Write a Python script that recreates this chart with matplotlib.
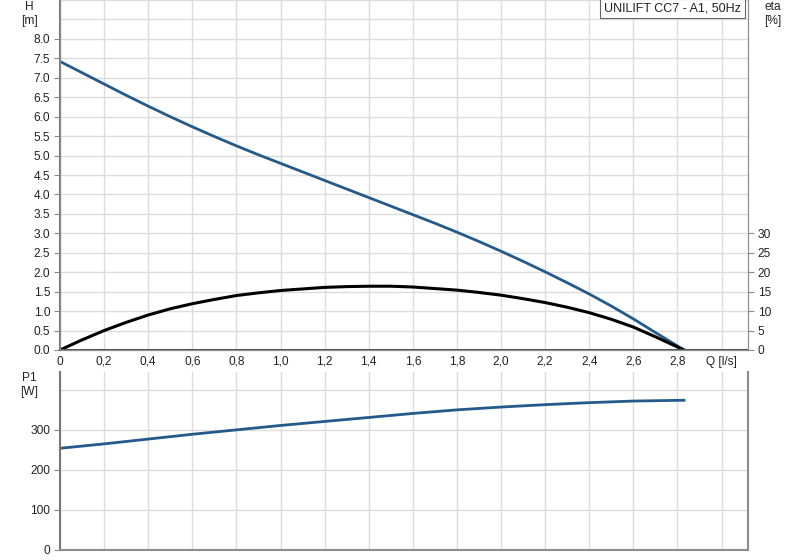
import matplotlib
matplotlib.use('Agg')
import matplotlib.pyplot as plt

# Pump curve data (Q in l/s)
q = [0.0, 0.1, 0.2, 0.3, 0.4, 0.5, 0.6, 0.7, 0.8, 0.9, 1.0, 1.1, 1.2, 1.3, 1.4,
     1.5, 1.6, 1.7, 1.8, 1.9, 2.0, 2.1, 2.2, 2.3, 2.4, 2.5, 2.6, 2.7, 2.83]
head = [7.42, 7.13, 6.84, 6.55, 6.27, 6.00, 5.74, 5.49, 5.25, 5.02, 4.80, 4.58,
        4.36, 4.14, 3.92, 3.70, 3.48, 3.26, 3.03, 2.79, 2.54, 2.28, 2.01, 1.73,
        1.44, 1.13, 0.80, 0.45, 0.0]
eta = [0.0, 2.6, 5.0, 7.1, 9.0, 10.6, 11.9, 13.0, 14.0, 14.7, 15.3, 15.7, 16.1,
       16.3, 16.4, 16.4, 16.2, 15.8, 15.4, 14.8, 14.1, 13.2, 12.2, 11.0, 9.6,
       7.9, 5.9, 3.4, 0.0]
q_p = [0.0, 0.2, 0.4, 0.6, 0.8, 1.0, 1.2, 1.4, 1.6, 1.8, 2.0, 2.2, 2.4, 2.6, 2.83]
p1 = [254, 265, 277, 289, 300, 311, 321, 331, 341, 350, 357, 363, 368, 372, 374]

q_ticks = [0, 0.2, 0.4, 0.6, 0.8, 1.0, 1.2, 1.4, 1.6, 1.8, 2.0, 2.2, 2.4, 2.6, 2.8, 3.0]
q_labels = ['0', '0,2', '0,4', '0,6', '0,8', '1,0', '1,2', '1,4', '1,6', '1,8',
            '2,0', '2,2', '2,4', '2,6', '2,8', 'Q [l/s]']
h_ticks = [i * 0.5 for i in range(17)]
eta_ticks = [0, 5, 10, 15, 20, 25, 30]
p_ticks = [0, 100, 200, 300]

plt.rcParams['font.family'] = ['Liberation Sans', 'DejaVu Sans']
plt.rcParams['font.size'] = 8.6
plt.rcParams['text.color'] = '#222222'
plt.rcParams['xtick.color'] = '#222222'
plt.rcParams['ytick.color'] = '#222222'

blue = '#245a8a'
grid_c = '#dcdcdc'
spine_c = '#8c8c8c'

fig = plt.figure(figsize=(8, 5.6), dpi=100)
ax = fig.add_axes([0.075, 0.375, 0.86, 0.625])
ax2 = fig.add_axes([0.075, 0.018, 0.86, 0.318])

# top chart: head and efficiency
ax.plot(q, head, color=blue, lw=2)
ax.plot(q, [e / 10 for e in eta], color='black', lw=2.2)
ax.set_xlim(0, 3.12)
ax.set_ylim(0, 9.0)
ax.set_xticks(q_ticks)
ax.set_xticklabels(q_labels)
ax.set_yticks(h_ticks)
ax.set_yticklabels(['%.1f' % t for t in h_ticks])
ax.set_yticks([8.5, 9.0], minor=True)
ax.grid(True, which='both', color=grid_c, lw=1)
ax.tick_params(axis='x', length=0, pad=4)
ax.tick_params(axis='y', length=4, color=spine_c, pad=3)
ax.tick_params(which='minor', length=0)

axr = ax.twinx()
axr.set_ylim(0, 90)
axr.set_yticks(eta_ticks)
axr.tick_params(axis='y', length=4, color=spine_c, pad=3)

for a in (ax, axr):
    for s in a.spines.values():
        s.set_color(spine_c)
    a.spines['top'].set_visible(False)
ax.spines['left'].set_color('#777777')
ax.spines['left'].set_linewidth(1.5)
ax.spines['bottom'].set_color('#555555')
ax.spines['bottom'].set_linewidth(1.5)

fig.text(29 / 800, 1 - 7 / 560, 'H', ha='center', va='center')
fig.text(30 / 800, 1 - 21 / 560, '[m]', ha='center', va='center')
fig.text(773 / 800, 1 - 7 / 560, 'eta', ha='center', va='center')
fig.text(773 / 800, 1 - 21 / 560, '[%]', ha='center', va='center')
ax.text(0.99, 0.993, 'UNILIFT CC7 - A1, 50Hz', transform=ax.transAxes,
        ha='right', va='top', fontsize=9,
        bbox=dict(boxstyle='square,pad=0.3', fc='white', ec='#666666', lw=0.8))

# bottom chart: power input
ax2.plot(q_p, p1, color=blue, lw=2)
ax2.set_xlim(0, 3.12)
ax2.set_ylim(0, 445)
ax2.set_xticks(q_ticks)
ax2.set_xticklabels([])
ax2.set_yticks(p_ticks)
ax2.set_yticks([400], minor=True)
ax2.grid(True, which='both', color=grid_c, lw=1)
ax2.tick_params(axis='x', length=0)
ax2.tick_params(axis='y', length=4, color=spine_c, pad=3)
ax2.tick_params(which='minor', length=0)
for s in ax2.spines.values():
    s.set_color(spine_c)
ax2.spines['top'].set_visible(False)
ax2.spines['left'].set_color('#777777')
ax2.spines['left'].set_linewidth(1.5)
ax2.spines['bottom'].set_linewidth(1.5)
ax2.spines['right'].set_linewidth(1.5)
fig.text(29 / 800, 1 - 378 / 560, 'P1', ha='center', va='center')
fig.text(29 / 800, 1 - 392 / 560, '[W]', ha='center', va='center')

fig.savefig('out.png', dpi=100)
